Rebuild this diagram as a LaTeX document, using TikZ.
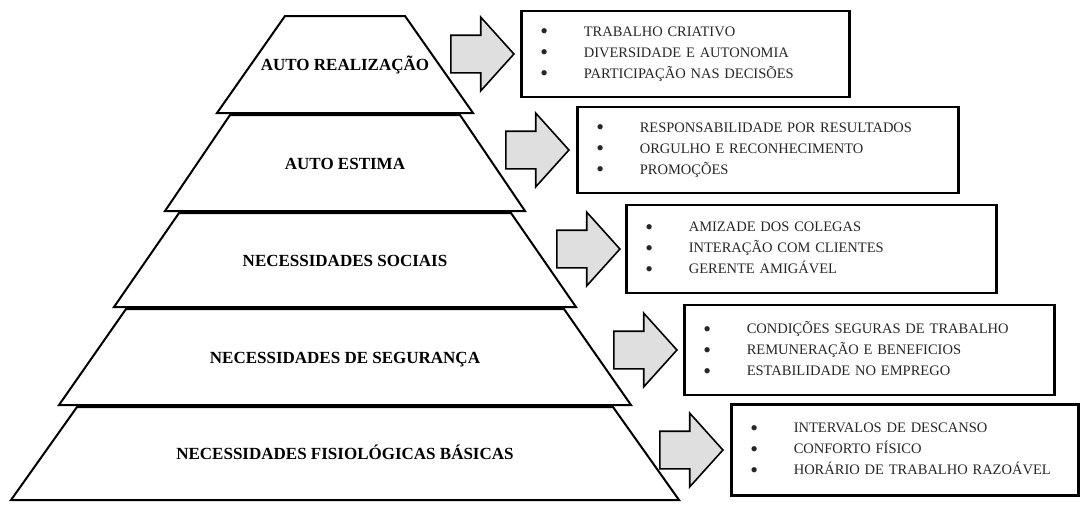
\documentclass[tikz,border=0pt]{standalone}
\usepackage{fontspec}
\setmainfont{Liberation Serif}
\usetikzlibrary{positioning, shapes.arrows}

\newcommand{\itm}[1]{\makebox[43.5pt][l]{\raisebox{-2.5pt}{\fontsize{22}{22}\selectfont\textbullet}}#1}

\begin{document}
\begin{tikzpicture}[x=1pt, y=-1pt,
  tierline/.style={draw, line width=2pt, line join=miter},
  tierlabel/.style={inner sep=0pt, anchor=base, font=\fontsize{17}{20}\selectfont\bfseries},
  listbox/.style={draw, line width=2.6pt, inner xsep=19pt, inner ysep=0pt, align=left, anchor=west,
    text=black!85, font=\fontsize{14.5}{21}\selectfont},
  blockarrow/.style={draw, line width=1.6pt, fill=gray!25, single arrow, single arrow head extend=18pt,
    single arrow tip angle=96, single arrow head indent=0pt, minimum height=63pt, minimum width=72pt,
    inner xsep=0pt, inner ysep=18pt}]
\useasboundingbox (0,0) rectangle (1080,504);

\foreach \yt/\yb/\ht/\hb/\name/\txt in {16/113/60/128/t1/{AUTO REALIZAÇÃO},
    115/211/115/180/t2/{AUTO ESTIMA},
    213/307/166/231/t3/{NECESSIDADES SOCIAIS},
    309/405/219/286/t4/{NECESSIDADES DE SEGURANÇA},
    407/500/268/334/t5/{NECESSIDADES FISIOLÓGICAS BÁSICAS}} {
  \draw[tierline] (345-\hb,\yb) -- (345-\ht,\yt) -- (345+\ht,\yt) -- (345+\hb,\yb) -- cycle;
  \node[tierlabel] (\name) at (345,{(\yt+\yb)/2+6}) {\txt};
}

\node[listbox, text width=290pt, minimum height=86pt] (box1) at (520,54)
  {\itm{TRABALHO CRIATIVO}\\ \itm{DIVERSIDADE E AUTONOMIA}\\ \itm{PARTICIPAÇÃO NAS DECISÕES}};
\node[listbox, text width=343pt, minimum height=86pt] (box2) at (576,150)
  {\itm{RESPONSABILIDADE POR RESULTADOS}\\ \itm{ORGULHO E RECONHECIMENTO}\\ \itm{PROMOÇÕES}};
\node[listbox, text width=332pt, minimum height=88pt] (box3) at (625,249)
  {\itm{AMIZADE DOS COLEGAS}\\ \itm{INTERAÇÃO COM CLIENTES}\\ \itm{GERENTE AMIGÁVEL}};
\node[listbox, text width=332pt, minimum height=90pt] (box4) at (683,350)
  {\itm{CONDIÇÕES SEGURAS DE TRABALHO}\\ \itm{REMUNERAÇÃO E BENEFICIOS}\\ \itm{ESTABILIDADE NO EMPREGO}};
\node[listbox, text width=309pt, minimum height=91pt] (box5) at (730,450)
  {\itm{INTERVALOS DE  DESCANSO}\\ \itm{CONFORTO FÍSICO}\\ \itm{HORÁRIO DE TRABALHO RAZOÁVEL}};

\node[blockarrow, left=5pt of box1] (arr1) {};
\node[blockarrow, left=6pt of box2] (arr2) {};
\node[blockarrow, left=4pt of box3] (arr3) {};
\node[blockarrow, left=5pt of box4] (arr4) {};
\node[blockarrow, left=6pt of box5] (arr5) {};
\end{tikzpicture}
\end{document}
